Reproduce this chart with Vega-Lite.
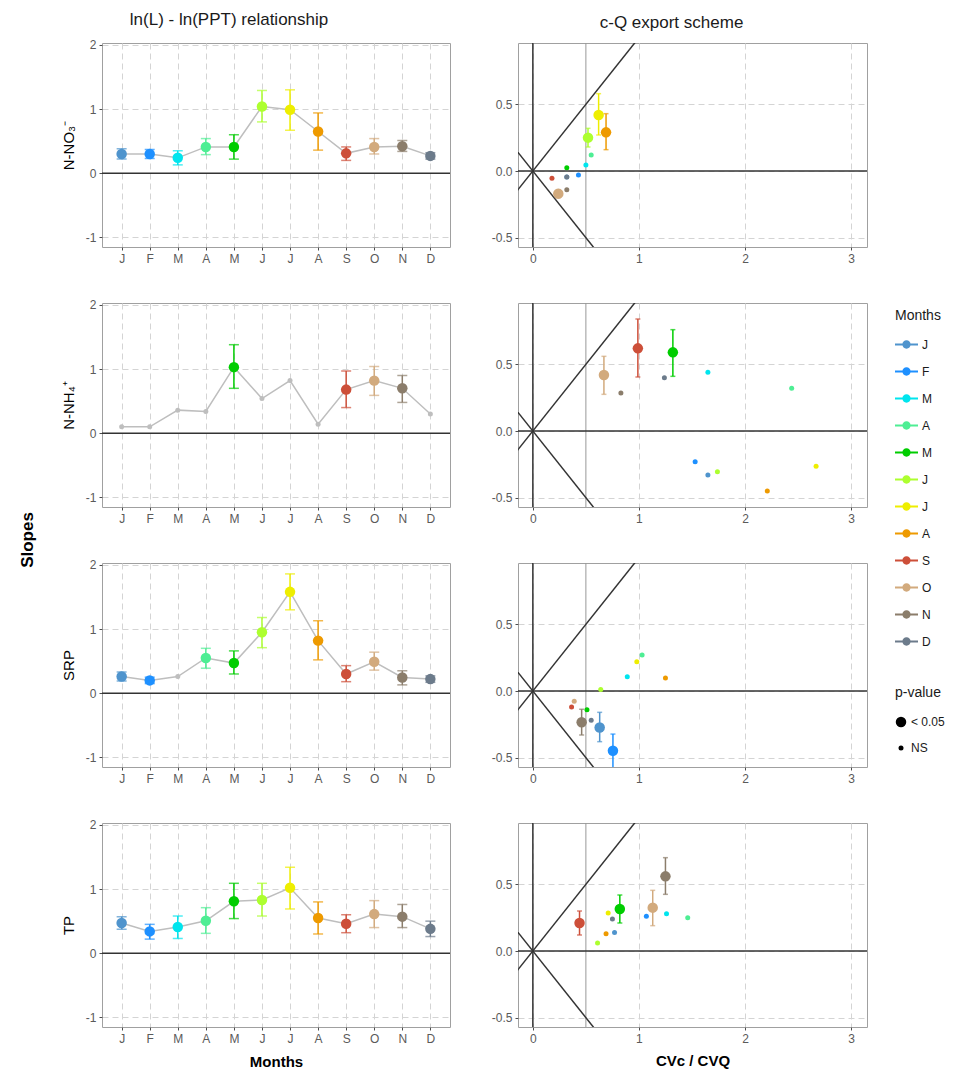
{
  "$schema": "https://vega.github.io/schema/vega-lite/v6.json",
  "padding": {"left": 18, "top": 10, "right": 5, "bottom": 3},
  "title": {"text": "Slopes", "orient": "left", "anchor": "middle", "fontSize": 17, "fontWeight": "bold", "offset": 24, "color": "#000000"},
  "datasets": {
    "left": [
      {"var": "NO3", "mon": "Jan", "slope": 0.30, "lo": 0.22, "hi": 0.38, "p": "< 0.05"},
      {"var": "NO3", "mon": "Feb", "slope": 0.30, "lo": 0.23, "hi": 0.37, "p": "< 0.05"},
      {"var": "NO3", "mon": "Mar", "slope": 0.24, "lo": 0.13, "hi": 0.35, "p": "< 0.05"},
      {"var": "NO3", "mon": "Apr", "slope": 0.41, "lo": 0.29, "hi": 0.54, "p": "< 0.05"},
      {"var": "NO3", "mon": "May", "slope": 0.41, "lo": 0.22, "hi": 0.60, "p": "< 0.05"},
      {"var": "NO3", "mon": "Jun", "slope": 1.04, "lo": 0.80, "hi": 1.29, "p": "< 0.05"},
      {"var": "NO3", "mon": "Jul", "slope": 0.99, "lo": 0.67, "hi": 1.30, "p": "< 0.05"},
      {"var": "NO3", "mon": "Aug", "slope": 0.65, "lo": 0.36, "hi": 0.94, "p": "< 0.05"},
      {"var": "NO3", "mon": "Sep", "slope": 0.31, "lo": 0.20, "hi": 0.41, "p": "< 0.05"},
      {"var": "NO3", "mon": "Oct", "slope": 0.41, "lo": 0.30, "hi": 0.54, "p": "< 0.05"},
      {"var": "NO3", "mon": "Nov", "slope": 0.42, "lo": 0.34, "hi": 0.51, "p": "< 0.05"},
      {"var": "NO3", "mon": "Dec", "slope": 0.27, "lo": 0.22, "hi": 0.32, "p": "< 0.05"},
      {"var": "NH4", "mon": "Jan", "slope": 0.10, "lo": null, "hi": null, "p": "NS"},
      {"var": "NH4", "mon": "Feb", "slope": 0.10, "lo": null, "hi": null, "p": "NS"},
      {"var": "NH4", "mon": "Mar", "slope": 0.36, "lo": null, "hi": null, "p": "NS"},
      {"var": "NH4", "mon": "Apr", "slope": 0.34, "lo": null, "hi": null, "p": "NS"},
      {"var": "NH4", "mon": "May", "slope": 1.03, "lo": 0.70, "hi": 1.38, "p": "< 0.05"},
      {"var": "NH4", "mon": "Jun", "slope": 0.54, "lo": null, "hi": null, "p": "NS"},
      {"var": "NH4", "mon": "Jul", "slope": 0.82, "lo": null, "hi": null, "p": "NS"},
      {"var": "NH4", "mon": "Aug", "slope": 0.14, "lo": null, "hi": null, "p": "NS"},
      {"var": "NH4", "mon": "Sep", "slope": 0.68, "lo": 0.40, "hi": 0.97, "p": "< 0.05"},
      {"var": "NH4", "mon": "Oct", "slope": 0.82, "lo": 0.59, "hi": 1.04, "p": "< 0.05"},
      {"var": "NH4", "mon": "Nov", "slope": 0.70, "lo": 0.48, "hi": 0.90, "p": "< 0.05"},
      {"var": "NH4", "mon": "Dec", "slope": 0.30, "lo": null, "hi": null, "p": "NS"},
      {"var": "SRP", "mon": "Jan", "slope": 0.26, "lo": 0.19, "hi": 0.33, "p": "< 0.05"},
      {"var": "SRP", "mon": "Feb", "slope": 0.20, "lo": 0.15, "hi": 0.25, "p": "< 0.05"},
      {"var": "SRP", "mon": "Mar", "slope": 0.26, "lo": null, "hi": null, "p": "NS"},
      {"var": "SRP", "mon": "Apr", "slope": 0.55, "lo": 0.39, "hi": 0.70, "p": "< 0.05"},
      {"var": "SRP", "mon": "May", "slope": 0.47, "lo": 0.30, "hi": 0.66, "p": "< 0.05"},
      {"var": "SRP", "mon": "Jun", "slope": 0.95, "lo": 0.71, "hi": 1.18, "p": "< 0.05"},
      {"var": "SRP", "mon": "Jul", "slope": 1.58, "lo": 1.30, "hi": 1.86, "p": "< 0.05"},
      {"var": "SRP", "mon": "Aug", "slope": 0.82, "lo": 0.52, "hi": 1.13, "p": "< 0.05"},
      {"var": "SRP", "mon": "Sep", "slope": 0.30, "lo": 0.18, "hi": 0.43, "p": "< 0.05"},
      {"var": "SRP", "mon": "Oct", "slope": 0.49, "lo": 0.36, "hi": 0.64, "p": "< 0.05"},
      {"var": "SRP", "mon": "Nov", "slope": 0.245, "lo": 0.13, "hi": 0.35, "p": "< 0.05"},
      {"var": "SRP", "mon": "Dec", "slope": 0.22, "lo": 0.17, "hi": 0.27, "p": "< 0.05"},
      {"var": "TP", "mon": "Jan", "slope": 0.47, "lo": 0.375, "hi": 0.57, "p": "< 0.05"},
      {"var": "TP", "mon": "Feb", "slope": 0.34, "lo": 0.22, "hi": 0.45, "p": "< 0.05"},
      {"var": "TP", "mon": "Mar", "slope": 0.41, "lo": 0.23, "hi": 0.58, "p": "< 0.05"},
      {"var": "TP", "mon": "Apr", "slope": 0.505, "lo": 0.31, "hi": 0.71, "p": "< 0.05"},
      {"var": "TP", "mon": "May", "slope": 0.81, "lo": 0.54, "hi": 1.09, "p": "< 0.05"},
      {"var": "TP", "mon": "Jun", "slope": 0.83, "lo": 0.58, "hi": 1.09, "p": "< 0.05"},
      {"var": "TP", "mon": "Jul", "slope": 1.02, "lo": 0.69, "hi": 1.34, "p": "< 0.05"},
      {"var": "TP", "mon": "Aug", "slope": 0.55, "lo": 0.30, "hi": 0.80, "p": "< 0.05"},
      {"var": "TP", "mon": "Sep", "slope": 0.46, "lo": 0.32, "hi": 0.60, "p": "< 0.05"},
      {"var": "TP", "mon": "Oct", "slope": 0.61, "lo": 0.40, "hi": 0.82, "p": "< 0.05"},
      {"var": "TP", "mon": "Nov", "slope": 0.57, "lo": 0.40, "hi": 0.76, "p": "< 0.05"},
      {"var": "TP", "mon": "Dec", "slope": 0.38, "lo": 0.26, "hi": 0.50, "p": "< 0.05"}
    ],
    "right": [
      {"var": "NO3", "mon": "Jan", "cv": 0.32, "slope": -0.045, "lo": null, "hi": null, "p": "NS"},
      {"var": "NO3", "mon": "Feb", "cv": 0.43, "slope": -0.03, "lo": null, "hi": null, "p": "NS"},
      {"var": "NO3", "mon": "Mar", "cv": 0.50, "slope": 0.045, "lo": null, "hi": null, "p": "NS"},
      {"var": "NO3", "mon": "Apr", "cv": 0.55, "slope": 0.12, "lo": null, "hi": null, "p": "NS"},
      {"var": "NO3", "mon": "May", "cv": 0.32, "slope": 0.025, "lo": null, "hi": null, "p": "NS"},
      {"var": "NO3", "mon": "Jun", "cv": 0.52, "slope": 0.25, "lo": 0.18, "hi": 0.32, "p": "< 0.05"},
      {"var": "NO3", "mon": "Jul", "cv": 0.62, "slope": 0.42, "lo": 0.27, "hi": 0.58, "p": "< 0.05"},
      {"var": "NO3", "mon": "Aug", "cv": 0.69, "slope": 0.29, "lo": 0.16, "hi": 0.43, "p": "< 0.05"},
      {"var": "NO3", "mon": "Sep", "cv": 0.18, "slope": -0.055, "lo": null, "hi": null, "p": "NS"},
      {"var": "NO3", "mon": "Oct", "cv": 0.24, "slope": -0.17, "lo": -0.20, "hi": -0.14, "p": "< 0.05"},
      {"var": "NO3", "mon": "Nov", "cv": 0.32, "slope": -0.14, "lo": null, "hi": null, "p": "NS"},
      {"var": "NO3", "mon": "Dec", "cv": 0.32, "slope": -0.045, "lo": null, "hi": null, "p": "NS"},
      {"var": "NH4", "mon": "Jan", "cv": 1.65, "slope": -0.33, "lo": null, "hi": null, "p": "NS"},
      {"var": "NH4", "mon": "Feb", "cv": 1.53, "slope": -0.23, "lo": null, "hi": null, "p": "NS"},
      {"var": "NH4", "mon": "Mar", "cv": 1.65, "slope": 0.44, "lo": null, "hi": null, "p": "NS"},
      {"var": "NH4", "mon": "Apr", "cv": 2.44, "slope": 0.32, "lo": null, "hi": null, "p": "NS"},
      {"var": "NH4", "mon": "May", "cv": 1.32, "slope": 0.59, "lo": 0.41, "hi": 0.76, "p": "< 0.05"},
      {"var": "NH4", "mon": "Jun", "cv": 1.74, "slope": -0.305, "lo": null, "hi": null, "p": "NS"},
      {"var": "NH4", "mon": "Jul", "cv": 2.67, "slope": -0.265, "lo": null, "hi": null, "p": "NS"},
      {"var": "NH4", "mon": "Aug", "cv": 2.21, "slope": -0.45, "lo": null, "hi": null, "p": "NS"},
      {"var": "NH4", "mon": "Sep", "cv": 0.99, "slope": 0.62, "lo": 0.405, "hi": 0.84, "p": "< 0.05"},
      {"var": "NH4", "mon": "Oct", "cv": 0.67, "slope": 0.42, "lo": 0.275, "hi": 0.56, "p": "< 0.05"},
      {"var": "NH4", "mon": "Nov", "cv": 0.83, "slope": 0.285, "lo": null, "hi": null, "p": "NS"},
      {"var": "NH4", "mon": "Dec", "cv": 1.24, "slope": 0.40, "lo": null, "hi": null, "p": "NS"},
      {"var": "SRP", "mon": "Jan", "cv": 0.63, "slope": -0.274, "lo": -0.38, "hi": -0.16, "p": "< 0.05"},
      {"var": "SRP", "mon": "Feb", "cv": 0.755, "slope": -0.448, "lo": -0.60, "hi": -0.323, "p": "< 0.05"},
      {"var": "SRP", "mon": "Mar", "cv": 0.89, "slope": 0.107, "lo": null, "hi": null, "p": "NS"},
      {"var": "SRP", "mon": "Apr", "cv": 1.03, "slope": 0.27, "lo": null, "hi": null, "p": "NS"},
      {"var": "SRP", "mon": "May", "cv": 0.51, "slope": -0.14, "lo": null, "hi": null, "p": "NS"},
      {"var": "SRP", "mon": "Jun", "cv": 0.64, "slope": 0.012, "lo": null, "hi": null, "p": "NS"},
      {"var": "SRP", "mon": "Jul", "cv": 0.98, "slope": 0.22, "lo": null, "hi": null, "p": "NS"},
      {"var": "SRP", "mon": "Aug", "cv": 1.25, "slope": 0.097, "lo": null, "hi": null, "p": "NS"},
      {"var": "SRP", "mon": "Sep", "cv": 0.365, "slope": -0.12, "lo": null, "hi": null, "p": "NS"},
      {"var": "SRP", "mon": "Oct", "cv": 0.39, "slope": -0.077, "lo": null, "hi": null, "p": "NS"},
      {"var": "SRP", "mon": "Nov", "cv": 0.46, "slope": -0.234, "lo": -0.33, "hi": -0.137, "p": "< 0.05"},
      {"var": "SRP", "mon": "Dec", "cv": 0.55, "slope": -0.22, "lo": null, "hi": null, "p": "NS"},
      {"var": "TP", "mon": "Jan", "cv": 0.77, "slope": 0.138, "lo": null, "hi": null, "p": "NS"},
      {"var": "TP", "mon": "Feb", "cv": 1.07, "slope": 0.26, "lo": null, "hi": null, "p": "NS"},
      {"var": "TP", "mon": "Mar", "cv": 1.26, "slope": 0.28, "lo": null, "hi": null, "p": "NS"},
      {"var": "TP", "mon": "Apr", "cv": 1.46, "slope": 0.25, "lo": null, "hi": null, "p": "NS"},
      {"var": "TP", "mon": "May", "cv": 0.82, "slope": 0.315, "lo": 0.21, "hi": 0.42, "p": "< 0.05"},
      {"var": "TP", "mon": "Jun", "cv": 0.61, "slope": 0.06, "lo": null, "hi": null, "p": "NS"},
      {"var": "TP", "mon": "Jul", "cv": 0.71, "slope": 0.285, "lo": null, "hi": null, "p": "NS"},
      {"var": "TP", "mon": "Aug", "cv": 0.69, "slope": 0.13, "lo": null, "hi": null, "p": "NS"},
      {"var": "TP", "mon": "Sep", "cv": 0.44, "slope": 0.21, "lo": 0.12, "hi": 0.30, "p": "< 0.05"},
      {"var": "TP", "mon": "Oct", "cv": 1.13, "slope": 0.325, "lo": 0.19, "hi": 0.455, "p": "< 0.05"},
      {"var": "TP", "mon": "Nov", "cv": 1.25, "slope": 0.56, "lo": 0.425, "hi": 0.70, "p": "< 0.05"},
      {"var": "TP", "mon": "Dec", "cv": 0.75, "slope": 0.24, "lo": null, "hi": null, "p": "NS"}
    ]
  },
  "columns": 2,
  "spacing": {"row": 33, "column": 38},
  "concat": [
    {
      "width": 348, "height": 204,
      "title": {"text": "ln(L) - ln(PPT) relationship", "frame": "bounds", "dx": -27},
      "layer": [
        {"data": {"values": [{}]}, "mark": {"type": "rule", "color": "#333333", "strokeWidth": 1.5}, "encoding": {"y": {"datum": 0, "type": "quantitative", "scale": {"domain": [-1.15, 2.03], "nice": false, "zero": false}}}},
        {"data": {"name": "left"}, "transform": [{"filter": "datum.var == 'NO3'"}], "mark": {"type": "line", "color": "#BEBEBE", "strokeWidth": 1.5},
         "encoding": {
           "x": {"field": "mon", "type": "ordinal", "scale": {"type": "point", "domain": ["Jan","Feb","Mar","Apr","May","Jun","Jul","Aug","Sep","Oct","Nov","Dec"], "padding": 0.7}, "axis": {"title": null, "grid": true, "labelExpr": "substring(datum.label,0,1)", "labelAngle": 0}},
           "y": {"field": "slope", "type": "quantitative", "scale": {"domain": [-1.15, 2.03], "nice": false, "zero": false}, "axis": {"title": "N-NO₃⁻", "values": [-1, 0, 1, 2], "format": "d", "labelExpr": "replace(datum.label, '−', '-')"}}}},
        {"data": {"name": "left"}, "transform": [{"filter": "datum.var == 'NO3' && datum.p == '< 0.05'"}], "mark": {"type": "errorbar", "ticks": true, "size": 10, "thickness": 1.5},
         "encoding": {
           "x": {"field": "mon", "type": "ordinal"},
           "y": {"field": "lo", "type": "quantitative", "axis": {"title": "N-NO₃⁻", "values": [-1, 0, 1, 2], "format": "d", "labelExpr": "replace(datum.label, '−', '-')"}},
           "y2": {"field": "hi"},
           "color": {"field": "mon", "type": "nominal", "scale": {"domain": ["Jan","Feb","Mar","Apr","May","Jun","Jul","Aug","Sep","Oct","Nov","Dec","ns"], "range": ["#4F94CD","#1E90FF","#00E5EE","#4EEE94","#00CD00","#ADFF2F","#EEEE00","#EE9A00","#CD4F39","#D2AA7D","#8B7D6B","#6C7B8B","#BEBEBE"]},
                     "legend": {"title": "Months", "values": ["Jan","Feb","Mar","Apr","May","Jun","Jul","Aug","Sep","Oct","Nov","Dec"], "labelExpr": "substring(datum.label,0,1)", "symbolType": "M-1,-0.08H1V0.08H-1Z M0.36,0A0.36,0.36,0,1,1,-0.36,0A0.36,0.36,0,1,1,0.36,0Z", "symbolSize": 529, "symbolStrokeWidth": 0, "symbolOpacity": 1, "legendX": 793, "legendY": 266, "rowPadding": 9}}}},
        {"data": {"name": "left"}, "transform": [{"filter": "datum.var == 'NO3'"}, {"calculate": "datum.p == 'NS' ? 'ns' : datum.mon", "as": "ck"}], "mark": {"type": "point", "filled": true, "opacity": 1},
         "encoding": {
           "x": {"field": "mon", "type": "ordinal"},
           "y": {"field": "slope", "type": "quantitative", "axis": {"title": "N-NO₃⁻", "values": [-1, 0, 1, 2], "format": "d", "labelExpr": "replace(datum.label, '−', '-')"}},
           "color": {"field": "ck", "type": "nominal", "scale": {"domain": ["Jan","Feb","Mar","Apr","May","Jun","Jul","Aug","Sep","Oct","Nov","Dec","ns"], "range": ["#4F94CD","#1E90FF","#00E5EE","#4EEE94","#00CD00","#ADFF2F","#EEEE00","#EE9A00","#CD4F39","#D2AA7D","#8B7D6B","#6C7B8B","#BEBEBE"]},
                     "legend": {"title": "Months", "values": ["Jan","Feb","Mar","Apr","May","Jun","Jul","Aug","Sep","Oct","Nov","Dec"], "labelExpr": "substring(datum.label,0,1)", "symbolType": "M-1,-0.08H1V0.08H-1Z M0.36,0A0.36,0.36,0,1,1,-0.36,0A0.36,0.36,0,1,1,0.36,0Z", "symbolSize": 529, "symbolStrokeWidth": 0, "symbolOpacity": 1, "legendX": 793, "legendY": 266, "rowPadding": 9}},
           "size": {"field": "p", "type": "ordinal", "scale": {"domain": ["< 0.05", "NS"], "range": [110, 25]},
                    "legend": {"title": "p-value", "legendX": 793, "legendY": 643, "rowPadding": 14, "titlePadding": 16, "symbolOpacity": 1, "symbolFillColor": "#000000", "symbolStrokeColor": "#000000"}}}}
      ]
    },
    {
      "width": 349, "height": 204,
      "title": {"text": "c-Q export scheme", "frame": "bounds", "dx": -8},
      "layer": [
        {"data": {"values": [{}]}, "mark": {"type": "rule", "color": "#999999", "strokeWidth": 1}, "encoding": {"x": {"datum": 0.5, "type": "quantitative", "scale": {"domain": [-0.14, 3.15], "nice": false, "zero": false}}}},
        {"data": {"values": [{}]}, "mark": {"type": "rule", "color": "#333333", "strokeWidth": 1.5}, "encoding": {"x": {"datum": 0, "type": "quantitative"}}},
        {"data": {"values": [{}]}, "mark": {"type": "rule", "color": "#333333", "strokeWidth": 1.5}, "encoding": {"y": {"datum": 0, "type": "quantitative", "scale": {"domain": [-0.57, 0.96], "nice": false, "zero": false}}}},
        {"data": {"values": [{}]}, "mark": {"type": "rule", "color": "#333333", "strokeWidth": 1.5, "clip": true}, "encoding": {"x": {"datum": -1, "type": "quantitative"}, "y": {"datum": -1, "type": "quantitative"}, "x2": {"datum": 1}, "y2": {"datum": 1}}},
        {"data": {"values": [{}]}, "mark": {"type": "rule", "color": "#333333", "strokeWidth": 1.5, "clip": true}, "encoding": {"x": {"datum": -1, "type": "quantitative"}, "y": {"datum": 1, "type": "quantitative"}, "x2": {"datum": 1}, "y2": {"datum": -1}}},
        {"data": {"name": "right"}, "transform": [{"filter": "datum.var == 'NO3' && datum.p == '< 0.05'"}], "mark": {"type": "errorbar", "ticks": true, "size": 5, "thickness": 1.5, "clip": true},
         "encoding": {
           "x": {"field": "cv", "type": "quantitative", "axis": {"title": null, "values": [0, 1, 2, 3], "format": "d"}},
           "y": {"field": "lo", "type": "quantitative", "axis": {"title": null, "values": [-0.5, 0, 0.5], "format": ".1f", "labelExpr": "replace(datum.label, '−', '-')"}},
           "y2": {"field": "hi"},
           "color": {"field": "mon", "type": "nominal"}}},
        {"data": {"name": "right"}, "transform": [{"filter": "datum.var == 'NO3'"}], "mark": {"type": "point", "filled": true, "opacity": 1},
         "encoding": {
           "x": {"field": "cv", "type": "quantitative", "axis": {"title": null, "values": [0, 1, 2, 3], "format": "d"}},
           "y": {"field": "slope", "type": "quantitative", "axis": {"title": null, "values": [-0.5, 0, 0.5], "format": ".1f", "labelExpr": "replace(datum.label, '−', '-')"}},
           "color": {"field": "mon", "type": "nominal"},
           "size": {"field": "p", "type": "ordinal"}}}
      ]
    },
    {
      "width": 348, "height": 204,
      "layer": [
        {"data": {"values": [{}]}, "mark": {"type": "rule", "color": "#333333", "strokeWidth": 1.5}, "encoding": {"y": {"datum": 0, "type": "quantitative", "scale": {"domain": [-1.15, 2.03], "nice": false, "zero": false}}}},
        {"data": {"name": "left"}, "transform": [{"filter": "datum.var == 'NH4'"}], "mark": {"type": "line", "color": "#BEBEBE", "strokeWidth": 1.5},
         "encoding": {
           "x": {"field": "mon", "type": "ordinal", "scale": {"type": "point", "domain": ["Jan","Feb","Mar","Apr","May","Jun","Jul","Aug","Sep","Oct","Nov","Dec"], "padding": 0.7}, "axis": {"title": null, "grid": true, "labelExpr": "substring(datum.label,0,1)", "labelAngle": 0}},
           "y": {"field": "slope", "type": "quantitative", "scale": {"domain": [-1.15, 2.03], "nice": false, "zero": false}, "axis": {"title": "N-NH₄⁺", "values": [-1, 0, 1, 2], "format": "d", "labelExpr": "replace(datum.label, '−', '-')"}}}},
        {"data": {"name": "left"}, "transform": [{"filter": "datum.var == 'NH4' && datum.p == '< 0.05'"}], "mark": {"type": "errorbar", "ticks": true, "size": 10, "thickness": 1.5},
         "encoding": {
           "x": {"field": "mon", "type": "ordinal"},
           "y": {"field": "lo", "type": "quantitative", "axis": {"title": "N-NH₄⁺", "values": [-1, 0, 1, 2], "format": "d", "labelExpr": "replace(datum.label, '−', '-')"}},
           "y2": {"field": "hi"},
           "color": {"field": "mon", "type": "nominal"}}},
        {"data": {"name": "left"}, "transform": [{"filter": "datum.var == 'NH4'"}, {"calculate": "datum.p == 'NS' ? 'ns' : datum.mon", "as": "ck"}], "mark": {"type": "point", "filled": true, "opacity": 1},
         "encoding": {
           "x": {"field": "mon", "type": "ordinal"},
           "y": {"field": "slope", "type": "quantitative", "axis": {"title": "N-NH₄⁺", "values": [-1, 0, 1, 2], "format": "d", "labelExpr": "replace(datum.label, '−', '-')"}},
           "color": {"field": "ck", "type": "nominal"},
           "size": {"field": "p", "type": "ordinal"}}}
      ]
    },
    {
      "width": 349, "height": 204,
      "layer": [
        {"data": {"values": [{}]}, "mark": {"type": "rule", "color": "#999999", "strokeWidth": 1}, "encoding": {"x": {"datum": 0.5, "type": "quantitative", "scale": {"domain": [-0.14, 3.15], "nice": false, "zero": false}}}},
        {"data": {"values": [{}]}, "mark": {"type": "rule", "color": "#333333", "strokeWidth": 1.5}, "encoding": {"x": {"datum": 0, "type": "quantitative"}}},
        {"data": {"values": [{}]}, "mark": {"type": "rule", "color": "#333333", "strokeWidth": 1.5}, "encoding": {"y": {"datum": 0, "type": "quantitative", "scale": {"domain": [-0.57, 0.96], "nice": false, "zero": false}}}},
        {"data": {"values": [{}]}, "mark": {"type": "rule", "color": "#333333", "strokeWidth": 1.5, "clip": true}, "encoding": {"x": {"datum": -1, "type": "quantitative"}, "y": {"datum": -1, "type": "quantitative"}, "x2": {"datum": 1}, "y2": {"datum": 1}}},
        {"data": {"values": [{}]}, "mark": {"type": "rule", "color": "#333333", "strokeWidth": 1.5, "clip": true}, "encoding": {"x": {"datum": -1, "type": "quantitative"}, "y": {"datum": 1, "type": "quantitative"}, "x2": {"datum": 1}, "y2": {"datum": -1}}},
        {"data": {"name": "right"}, "transform": [{"filter": "datum.var == 'NH4' && datum.p == '< 0.05'"}], "mark": {"type": "errorbar", "ticks": true, "size": 5, "thickness": 1.5, "clip": true},
         "encoding": {
           "x": {"field": "cv", "type": "quantitative", "axis": {"title": null, "values": [0, 1, 2, 3], "format": "d"}},
           "y": {"field": "lo", "type": "quantitative", "axis": {"title": null, "values": [-0.5, 0, 0.5], "format": ".1f", "labelExpr": "replace(datum.label, '−', '-')"}},
           "y2": {"field": "hi"},
           "color": {"field": "mon", "type": "nominal"}}},
        {"data": {"name": "right"}, "transform": [{"filter": "datum.var == 'NH4'"}], "mark": {"type": "point", "filled": true, "opacity": 1},
         "encoding": {
           "x": {"field": "cv", "type": "quantitative", "axis": {"title": null, "values": [0, 1, 2, 3], "format": "d"}},
           "y": {"field": "slope", "type": "quantitative", "axis": {"title": null, "values": [-0.5, 0, 0.5], "format": ".1f", "labelExpr": "replace(datum.label, '−', '-')"}},
           "color": {"field": "mon", "type": "nominal"},
           "size": {"field": "p", "type": "ordinal"}}}
      ]
    },
    {
      "width": 348, "height": 204,
      "layer": [
        {"data": {"values": [{}]}, "mark": {"type": "rule", "color": "#333333", "strokeWidth": 1.5}, "encoding": {"y": {"datum": 0, "type": "quantitative", "scale": {"domain": [-1.15, 2.03], "nice": false, "zero": false}}}},
        {"data": {"name": "left"}, "transform": [{"filter": "datum.var == 'SRP'"}], "mark": {"type": "line", "color": "#BEBEBE", "strokeWidth": 1.5},
         "encoding": {
           "x": {"field": "mon", "type": "ordinal", "scale": {"type": "point", "domain": ["Jan","Feb","Mar","Apr","May","Jun","Jul","Aug","Sep","Oct","Nov","Dec"], "padding": 0.7}, "axis": {"title": null, "grid": true, "labelExpr": "substring(datum.label,0,1)", "labelAngle": 0}},
           "y": {"field": "slope", "type": "quantitative", "scale": {"domain": [-1.15, 2.03], "nice": false, "zero": false}, "axis": {"title": "SRP", "values": [-1, 0, 1, 2], "format": "d", "labelExpr": "replace(datum.label, '−', '-')"}}}},
        {"data": {"name": "left"}, "transform": [{"filter": "datum.var == 'SRP' && datum.p == '< 0.05'"}], "mark": {"type": "errorbar", "ticks": true, "size": 10, "thickness": 1.5},
         "encoding": {
           "x": {"field": "mon", "type": "ordinal"},
           "y": {"field": "lo", "type": "quantitative", "axis": {"title": "SRP", "values": [-1, 0, 1, 2], "format": "d", "labelExpr": "replace(datum.label, '−', '-')"}},
           "y2": {"field": "hi"},
           "color": {"field": "mon", "type": "nominal"}}},
        {"data": {"name": "left"}, "transform": [{"filter": "datum.var == 'SRP'"}, {"calculate": "datum.p == 'NS' ? 'ns' : datum.mon", "as": "ck"}], "mark": {"type": "point", "filled": true, "opacity": 1},
         "encoding": {
           "x": {"field": "mon", "type": "ordinal"},
           "y": {"field": "slope", "type": "quantitative", "axis": {"title": "SRP", "values": [-1, 0, 1, 2], "format": "d", "labelExpr": "replace(datum.label, '−', '-')"}},
           "color": {"field": "ck", "type": "nominal"},
           "size": {"field": "p", "type": "ordinal"}}}
      ]
    },
    {
      "width": 349, "height": 204,
      "layer": [
        {"data": {"values": [{}]}, "mark": {"type": "rule", "color": "#999999", "strokeWidth": 1}, "encoding": {"x": {"datum": 0.5, "type": "quantitative", "scale": {"domain": [-0.14, 3.15], "nice": false, "zero": false}}}},
        {"data": {"values": [{}]}, "mark": {"type": "rule", "color": "#333333", "strokeWidth": 1.5}, "encoding": {"x": {"datum": 0, "type": "quantitative"}}},
        {"data": {"values": [{}]}, "mark": {"type": "rule", "color": "#333333", "strokeWidth": 1.5}, "encoding": {"y": {"datum": 0, "type": "quantitative", "scale": {"domain": [-0.57, 0.96], "nice": false, "zero": false}}}},
        {"data": {"values": [{}]}, "mark": {"type": "rule", "color": "#333333", "strokeWidth": 1.5, "clip": true}, "encoding": {"x": {"datum": -1, "type": "quantitative"}, "y": {"datum": -1, "type": "quantitative"}, "x2": {"datum": 1}, "y2": {"datum": 1}}},
        {"data": {"values": [{}]}, "mark": {"type": "rule", "color": "#333333", "strokeWidth": 1.5, "clip": true}, "encoding": {"x": {"datum": -1, "type": "quantitative"}, "y": {"datum": 1, "type": "quantitative"}, "x2": {"datum": 1}, "y2": {"datum": -1}}},
        {"data": {"name": "right"}, "transform": [{"filter": "datum.var == 'SRP' && datum.p == '< 0.05'"}], "mark": {"type": "errorbar", "ticks": true, "size": 5, "thickness": 1.5, "clip": true},
         "encoding": {
           "x": {"field": "cv", "type": "quantitative", "axis": {"title": null, "values": [0, 1, 2, 3], "format": "d"}},
           "y": {"field": "lo", "type": "quantitative", "axis": {"title": null, "values": [-0.5, 0, 0.5], "format": ".1f", "labelExpr": "replace(datum.label, '−', '-')"}},
           "y2": {"field": "hi"},
           "color": {"field": "mon", "type": "nominal"}}},
        {"data": {"name": "right"}, "transform": [{"filter": "datum.var == 'SRP'"}], "mark": {"type": "point", "filled": true, "opacity": 1},
         "encoding": {
           "x": {"field": "cv", "type": "quantitative", "axis": {"title": null, "values": [0, 1, 2, 3], "format": "d"}},
           "y": {"field": "slope", "type": "quantitative", "axis": {"title": null, "values": [-0.5, 0, 0.5], "format": ".1f", "labelExpr": "replace(datum.label, '−', '-')"}},
           "color": {"field": "mon", "type": "nominal"},
           "size": {"field": "p", "type": "ordinal"}}}
      ]
    },
    {
      "width": 348, "height": 204,
      "layer": [
        {"data": {"values": [{}]}, "mark": {"type": "rule", "color": "#333333", "strokeWidth": 1.5}, "encoding": {"y": {"datum": 0, "type": "quantitative", "scale": {"domain": [-1.15, 2.03], "nice": false, "zero": false}}}},
        {"data": {"name": "left"}, "transform": [{"filter": "datum.var == 'TP'"}], "mark": {"type": "line", "color": "#BEBEBE", "strokeWidth": 1.5},
         "encoding": {
           "x": {"field": "mon", "type": "ordinal", "scale": {"type": "point", "domain": ["Jan","Feb","Mar","Apr","May","Jun","Jul","Aug","Sep","Oct","Nov","Dec"], "padding": 0.7}, "axis": {"title": "Months", "titleFontWeight": "bold", "titlePadding": 10, "grid": true, "labelExpr": "substring(datum.label,0,1)", "labelAngle": 0}},
           "y": {"field": "slope", "type": "quantitative", "scale": {"domain": [-1.15, 2.03], "nice": false, "zero": false}, "axis": {"title": "TP", "values": [-1, 0, 1, 2], "format": "d", "labelExpr": "replace(datum.label, '−', '-')"}}}},
        {"data": {"name": "left"}, "transform": [{"filter": "datum.var == 'TP' && datum.p == '< 0.05'"}], "mark": {"type": "errorbar", "ticks": true, "size": 10, "thickness": 1.5},
         "encoding": {
           "x": {"field": "mon", "type": "ordinal", "axis": {"title": "Months", "titleFontWeight": "bold", "titlePadding": 10, "grid": true, "labelExpr": "substring(datum.label,0,1)", "labelAngle": 0}},
           "y": {"field": "lo", "type": "quantitative", "axis": {"title": "TP", "values": [-1, 0, 1, 2], "format": "d", "labelExpr": "replace(datum.label, '−', '-')"}},
           "y2": {"field": "hi"},
           "color": {"field": "mon", "type": "nominal"}}},
        {"data": {"name": "left"}, "transform": [{"filter": "datum.var == 'TP'"}, {"calculate": "datum.p == 'NS' ? 'ns' : datum.mon", "as": "ck"}], "mark": {"type": "point", "filled": true, "opacity": 1},
         "encoding": {
           "x": {"field": "mon", "type": "ordinal", "axis": {"title": "Months", "titleFontWeight": "bold", "titlePadding": 10, "grid": true, "labelExpr": "substring(datum.label,0,1)", "labelAngle": 0}},
           "y": {"field": "slope", "type": "quantitative", "axis": {"title": "TP", "values": [-1, 0, 1, 2], "format": "d", "labelExpr": "replace(datum.label, '−', '-')"}},
           "color": {"field": "ck", "type": "nominal"},
           "size": {"field": "p", "type": "ordinal"}}}
      ]
    },
    {
      "width": 349, "height": 204,
      "layer": [
        {"data": {"values": [{}]}, "mark": {"type": "rule", "color": "#999999", "strokeWidth": 1}, "encoding": {"x": {"datum": 0.5, "type": "quantitative", "scale": {"domain": [-0.14, 3.15], "nice": false, "zero": false}}}},
        {"data": {"values": [{}]}, "mark": {"type": "rule", "color": "#333333", "strokeWidth": 1.5}, "encoding": {"x": {"datum": 0, "type": "quantitative"}}},
        {"data": {"values": [{}]}, "mark": {"type": "rule", "color": "#333333", "strokeWidth": 1.5}, "encoding": {"y": {"datum": 0, "type": "quantitative", "scale": {"domain": [-0.57, 0.96], "nice": false, "zero": false}}}},
        {"data": {"values": [{}]}, "mark": {"type": "rule", "color": "#333333", "strokeWidth": 1.5, "clip": true}, "encoding": {"x": {"datum": -1, "type": "quantitative"}, "y": {"datum": -1, "type": "quantitative"}, "x2": {"datum": 1}, "y2": {"datum": 1}}},
        {"data": {"values": [{}]}, "mark": {"type": "rule", "color": "#333333", "strokeWidth": 1.5, "clip": true}, "encoding": {"x": {"datum": -1, "type": "quantitative"}, "y": {"datum": 1, "type": "quantitative"}, "x2": {"datum": 1}, "y2": {"datum": -1}}},
        {"data": {"name": "right"}, "transform": [{"filter": "datum.var == 'TP' && datum.p == '< 0.05'"}], "mark": {"type": "errorbar", "ticks": true, "size": 5, "thickness": 1.5, "clip": true},
         "encoding": {
           "x": {"field": "cv", "type": "quantitative", "axis": {"title": "CVc / CVQ", "titleFontWeight": "bold", "titlePadding": 9, "values": [0, 1, 2, 3], "format": "d"}},
           "y": {"field": "lo", "type": "quantitative", "axis": {"title": null, "values": [-0.5, 0, 0.5], "format": ".1f", "labelExpr": "replace(datum.label, '−', '-')"}},
           "y2": {"field": "hi"},
           "color": {"field": "mon", "type": "nominal"}}},
        {"data": {"name": "right"}, "transform": [{"filter": "datum.var == 'TP'"}], "mark": {"type": "point", "filled": true, "opacity": 1},
         "encoding": {
           "x": {"field": "cv", "type": "quantitative", "axis": {"title": "CVc / CVQ", "titleFontWeight": "bold", "titlePadding": 9, "values": [0, 1, 2, 3], "format": "d"}},
           "y": {"field": "slope", "type": "quantitative", "axis": {"title": null, "values": [-0.5, 0, 0.5], "format": ".1f", "labelExpr": "replace(datum.label, '−', '-')"}},
           "color": {"field": "mon", "type": "nominal"},
           "size": {"field": "p", "type": "ordinal"}}}
      ]
    }
  ],
  "resolve": {"scale": {"x": "independent", "y": "independent"}},
  "config": {
    "font": "Liberation Sans",
    "view": {"stroke": "#A0A0A0", "strokeWidth": 1},
    "title": {"fontSize": 17, "fontWeight": "normal", "color": "#1A1A1A", "offset": 10},
    "axis": {"domain": false, "grid": true, "gridColor": "#D4D4D4", "gridDash": [6, 4], "gridWidth": 1, "tickColor": "#4D4D4D", "tickSize": 3, "labelColor": "#5A5A5A", "labelFontSize": 12, "labelPadding": 3, "titleFontSize": 15, "titleFontWeight": "normal", "titleColor": "#000000", "titlePadding": 9},
    "legend": {
      "orient": "none",
      "symbolBaseFillColor": "#000000", "symbolBaseStrokeColor": "#000000",
      "titleFontSize": 14, "titleFontWeight": "normal", "titleColor": "#1A1A1A", "labelFontSize": 12, "labelColor": "#1A1A1A", "titlePadding": 10
    },
    "point": {"strokeWidth": 0}
  }
}
